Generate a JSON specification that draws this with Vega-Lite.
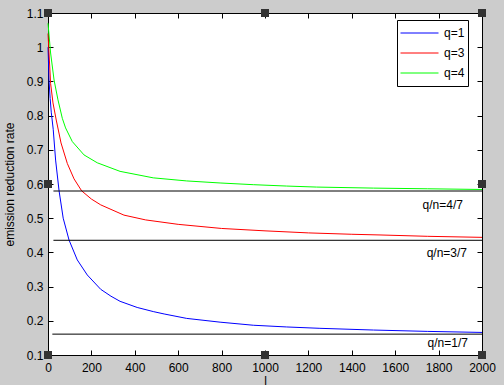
{
  "$schema": "https://vega.github.io/schema/vega-lite/v6.json",
  "width": 434,
  "height": 342,
  "autosize": {"type": "none"},
  "padding": {"left": 48, "top": 13, "right": 22, "bottom": 30},
  "background": "#cccccc",
  "config": {
    "font": "Liberation Sans",
    "view": {"fill": "white", "stroke": "black", "strokeWidth": 1},
    "axis": {
      "grid": false,
      "domainColor": "black",
      "tickColor": "black",
      "tickSize": -5,
      "labelColor": "black",
      "labelFontSize": 12,
      "labelOverlap": false,
      "labelFlush": false,
      "titleColor": "black",
      "titleFontSize": 12,
      "titleFontWeight": "normal"
    }
  },
  "datasets": {
    "curves": [
      {"x": 0, "y": 1.0, "q": "q=1"},
      {"x": 5, "y": 0.9, "q": "q=1"},
      {"x": 10, "y": 0.85, "q": "q=1"},
      {"x": 15, "y": 0.81, "q": "q=1"},
      {"x": 24, "y": 0.76, "q": "q=1"},
      {"x": 35, "y": 0.67, "q": "q=1"},
      {"x": 51, "y": 0.58, "q": "q=1"},
      {"x": 70, "y": 0.5, "q": "q=1"},
      {"x": 97, "y": 0.436, "q": "q=1"},
      {"x": 135, "y": 0.378, "q": "q=1"},
      {"x": 181, "y": 0.334, "q": "q=1"},
      {"x": 243, "y": 0.292, "q": "q=1"},
      {"x": 290, "y": 0.272, "q": "q=1"},
      {"x": 332, "y": 0.257, "q": "q=1"},
      {"x": 411, "y": 0.239, "q": "q=1"},
      {"x": 485, "y": 0.227, "q": "q=1"},
      {"x": 535, "y": 0.22, "q": "q=1"},
      {"x": 639, "y": 0.207, "q": "q=1"},
      {"x": 793, "y": 0.196, "q": "q=1"},
      {"x": 946, "y": 0.187, "q": "q=1"},
      {"x": 1100, "y": 0.182, "q": "q=1"},
      {"x": 1253, "y": 0.178, "q": "q=1"},
      {"x": 1500, "y": 0.173, "q": "q=1"},
      {"x": 1750, "y": 0.169, "q": "q=1"},
      {"x": 2000, "y": 0.166, "q": "q=1"},
      {"x": 0, "y": 1.04, "q": "q=3"},
      {"x": 12, "y": 0.894, "q": "q=3"},
      {"x": 23, "y": 0.837, "q": "q=3"},
      {"x": 38, "y": 0.787, "q": "q=3"},
      {"x": 60, "y": 0.72, "q": "q=3"},
      {"x": 89, "y": 0.66, "q": "q=3"},
      {"x": 120, "y": 0.615, "q": "q=3"},
      {"x": 155, "y": 0.58, "q": "q=3"},
      {"x": 200, "y": 0.556, "q": "q=3"},
      {"x": 243, "y": 0.539, "q": "q=3"},
      {"x": 350, "y": 0.509, "q": "q=3"},
      {"x": 450, "y": 0.495, "q": "q=3"},
      {"x": 600, "y": 0.482, "q": "q=3"},
      {"x": 800, "y": 0.47, "q": "q=3"},
      {"x": 1000, "y": 0.463, "q": "q=3"},
      {"x": 1200, "y": 0.457, "q": "q=3"},
      {"x": 1400, "y": 0.453, "q": "q=3"},
      {"x": 1530, "y": 0.451, "q": "q=3"},
      {"x": 1750, "y": 0.447, "q": "q=3"},
      {"x": 2000, "y": 0.444, "q": "q=3"},
      {"x": 0, "y": 1.07, "q": "q=4"},
      {"x": 12, "y": 0.983, "q": "q=4"},
      {"x": 28, "y": 0.904, "q": "q=4"},
      {"x": 46, "y": 0.846, "q": "q=4"},
      {"x": 66, "y": 0.792, "q": "q=4"},
      {"x": 81, "y": 0.764, "q": "q=4"},
      {"x": 112, "y": 0.724, "q": "q=4"},
      {"x": 166, "y": 0.685, "q": "q=4"},
      {"x": 227, "y": 0.662, "q": "q=4"},
      {"x": 332, "y": 0.637, "q": "q=4"},
      {"x": 485, "y": 0.618, "q": "q=4"},
      {"x": 639, "y": 0.609, "q": "q=4"},
      {"x": 793, "y": 0.603, "q": "q=4"},
      {"x": 946, "y": 0.598, "q": "q=4"},
      {"x": 1100, "y": 0.594, "q": "q=4"},
      {"x": 1238, "y": 0.591, "q": "q=4"},
      {"x": 1500, "y": 0.588, "q": "q=4"},
      {"x": 1750, "y": 0.586, "q": "q=4"},
      {"x": 2000, "y": 0.584, "q": "q=4"}
    ],
    "hlines": [
      {"x": 25, "y": 0.5795, "k": "4/7"},
      {"x": 2000, "y": 0.5795, "k": "4/7"},
      {"x": 25, "y": 0.4354, "k": "3/7"},
      {"x": 2000, "y": 0.4354, "k": "3/7"},
      {"x": 20, "y": 0.161, "k": "1/7"},
      {"x": 2000, "y": 0.161, "k": "1/7"}
    ],
    "labels": [
      {"x": 1912, "y": 0.5386, "t": "q/n=4/7"},
      {"x": 1931, "y": 0.398, "t": "q/n=3/7"},
      {"x": 1935, "y": 0.135, "t": "q/n=1/7"}
    ],
    "handles": [
      {"x": 0, "y": 1.1},
      {"x": 1000, "y": 1.1},
      {"x": 2000, "y": 1.1},
      {"x": 0, "y": 0.6},
      {"x": 2000, "y": 0.6},
      {"x": 0, "y": 0.1},
      {"x": 1000, "y": 0.1},
      {"x": 2000, "y": 0.1}
    ]
  },
  "layer": [
    {
      "data": {"name": "curves"},
      "mark": {"type": "line", "strokeWidth": 1},
      "encoding": {
        "x": {
          "field": "x", "type": "quantitative",
          "scale": {"domain": [0, 2000], "nice": false},
          "axis": {"orient": "bottom", "values": [0,200,400,600,800,1000,1200,1400,1600,1800,2000], "format": "d", "labelPadding": 12, "title": "l", "titlePadding": 2}
        },
        "y": {
          "field": "y", "type": "quantitative",
          "scale": {"domain": [0.1, 1.1], "nice": false, "zero": false},
          "axis": {"orient": "left", "values": [0.1,0.2,0.3,0.4,0.5,0.6,0.7,0.8,0.9,1,1.1], "format": "~g", "labelPadding": 10, "title": "emission reduction rate", "titlePadding": 10}
        },
        "color": {
          "field": "q", "type": "nominal",
          "scale": {"domain": ["q=1", "q=3", "q=4"], "range": ["#0000ff", "#ff0000", "#00ff00"]},
          "legend": {
            "orient": "none", "legendX": 349, "legendY": 7, "title": null,
            "symbolType": "stroke", "symbolSize": 1444, "symbolStrokeWidth": 1,
            "labelFontSize": 12, "labelColor": "black", "labelOffset": 5,
            "clipHeight": 20, "rowPadding": 0,
            "strokeColor": "black", "fillColor": "white", "padding": 3
          }
        }
      }
    },
    {
      "data": {"name": "hlines"},
      "mark": {"type": "line", "strokeWidth": 1, "color": "black"},
      "encoding": {
        "x": {"field": "x", "type": "quantitative",
          "axis": {"orient": "top", "values": [0,200,400,600,800,1000,1200,1400,1600,1800,2000], "labels": false, "title": null, "domain": false}},
        "y": {"field": "y", "type": "quantitative",
          "axis": {"orient": "right", "values": [0.1,0.2,0.3,0.4,0.5,0.6,0.7,0.8,0.9,1,1.1], "labels": false, "title": null, "domain": false}},
        "detail": {"field": "k", "type": "nominal"}
      }
    },
    {
      "data": {"name": "labels"},
      "mark": {"type": "text", "align": "right", "baseline": "middle", "fontSize": 12, "color": "black"},
      "encoding": {
        "x": {"field": "x", "type": "quantitative", "axis": null},
        "y": {"field": "y", "type": "quantitative", "axis": null},
        "text": {"field": "t", "type": "nominal"}
      }
    },
    {
      "data": {"name": "handles"},
      "mark": {"type": "square", "size": 64, "color": "#333333", "opacity": 1, "filled": true, "clip": false},
      "encoding": {
        "x": {"field": "x", "type": "quantitative", "axis": null},
        "y": {"field": "y", "type": "quantitative", "axis": null}
      }
    }
  ],
  "resolve": {"axis": {"x": "independent", "y": "independent"}}
}
